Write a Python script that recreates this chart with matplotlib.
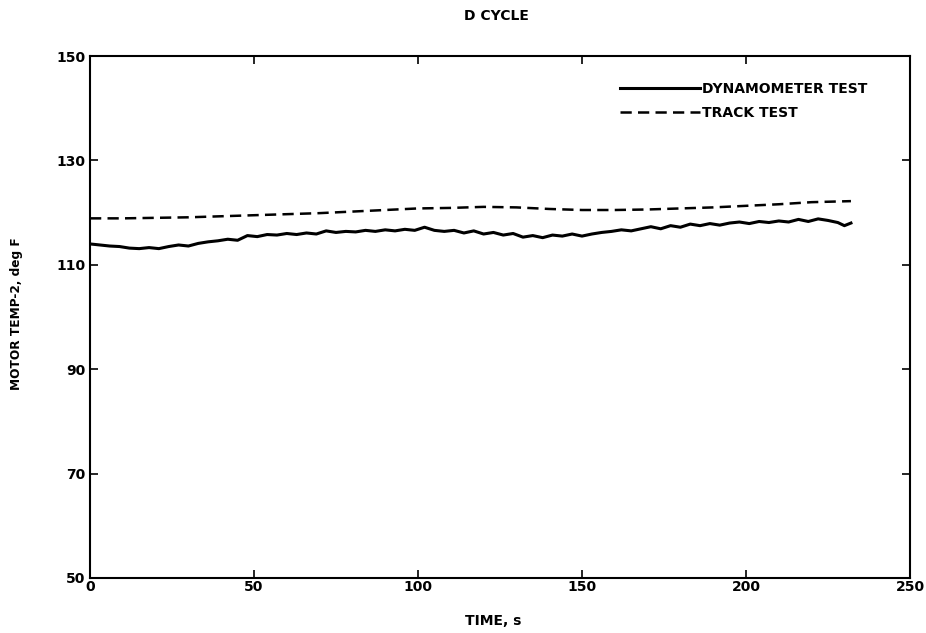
import numpy as np
import matplotlib.pyplot as plt

plt.rcParams['font.family'] = ['DejaVu Sans']
plt.rcParams['font.weight'] = 'bold'
plt.rcParams['axes.labelweight'] = 'bold'

# Dynamometer test (including the small wiggles)
dyno_time = [0, 3, 6, 9, 12, 15, 18, 21, 24, 27, 30, 33, 36, 39, 42, 45, 48,
             51, 54, 57, 60, 63, 66, 69, 72, 75, 78, 81, 84, 87, 90, 93, 96,
             99, 102, 105, 108, 111, 114, 117, 120, 123, 126, 129, 132, 135,
             138, 141, 144, 147, 150, 153, 156, 159, 162, 165, 168, 171, 174,
             177, 180, 183, 186, 189, 192, 195, 198, 201, 204, 207, 210, 213,
             216, 219, 222, 225, 228, 230, 232]
dyno_temp = [114.0, 113.8, 113.6, 113.5, 113.2, 113.1, 113.3, 113.1, 113.5,
             113.8, 113.6, 114.1, 114.4, 114.6, 114.9, 114.7, 115.6, 115.4,
             115.8, 115.7, 116.0, 115.8, 116.1, 115.9, 116.5, 116.2, 116.4,
             116.3, 116.6, 116.4, 116.7, 116.5, 116.8, 116.6, 117.2, 116.6,
             116.4, 116.6, 116.1, 116.5, 115.9, 116.2, 115.7, 116.0, 115.3,
             115.6, 115.2, 115.7, 115.5, 115.9, 115.5, 115.9, 116.2, 116.4,
             116.7, 116.5, 116.9, 117.3, 116.9, 117.5, 117.2, 117.8, 117.5,
             117.9, 117.6, 118.0, 118.2, 117.9, 118.3, 118.1, 118.4, 118.2,
             118.7, 118.3, 118.8, 118.5, 118.1, 117.5, 118.0]

# Track test
track_time = [0, 10, 20, 30, 40, 50, 60, 70, 80, 90, 100, 110, 120, 130,
              140, 150, 160, 170, 180, 190, 200, 210, 220, 232]
track_temp = [118.9, 118.9, 119.0, 119.1, 119.3, 119.5, 119.7, 119.9, 120.2,
              120.5, 120.8, 120.9, 121.1, 121.0, 120.7, 120.5, 120.5, 120.6,
              120.8, 121.0, 121.3, 121.6, 122.0, 122.2]

fig = plt.figure(figsize=(9.26, 6.33), dpi=100)
ax = fig.add_axes([0.0972, 0.0869, 0.8855, 0.8246])

ax.plot(dyno_time, dyno_temp, color='black', linewidth=2.2,
        label='DYNAMOMETER TEST')
ax.plot(track_time, track_temp, color='black', linewidth=1.8,
        dashes=(4.5, 2.5), label='TRACK TEST')

ax.set_xlim(0, 250)
ax.set_ylim(50, 150)
ax.set_xticks([0, 50, 100, 150, 200, 250])
ax.set_yticks([50, 70, 90, 110, 130, 150])
ax.tick_params(direction='in', top=True, right=True, length=6, width=1.2,
               labelsize=10)
ax.tick_params(axis='x', pad=1.5)
ax.tick_params(axis='y', pad=3.5)
for s in ax.spines.values():
    s.set_linewidth(1.5)

fig.text(493 / 926, 1 - 621 / 633, 'TIME, s', ha='center', va='center',
         fontsize=10, fontweight='bold')
fig.text(17 / 926, 1 - 314 / 633, 'MOTOR TEMP-2, deg F', ha='center',
         va='center', rotation=90, fontsize=8.7, fontweight='bold')
fig.text(496 / 926, 1 - 16 / 633, 'D CYCLE', ha='center', va='center',
         fontsize=10, fontweight='bold')

ax.legend(loc='upper left', bbox_to_anchor=(620 / 926, 1 - 82 / 633),
          bbox_transform=fig.transFigure, frameon=False, borderpad=0,
          borderaxespad=0, handlelength=5.75, handletextpad=0.15,
          fontsize=10, labelspacing=0.73)

fig.savefig('out.png', dpi=100)
